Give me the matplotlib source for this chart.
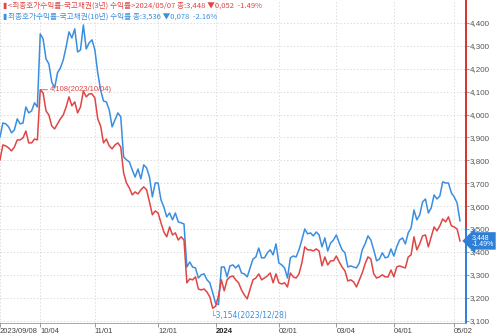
import matplotlib
matplotlib.use('Agg')
import matplotlib.pyplot as plt
import matplotlib.transforms as mtransforms
from matplotlib.ticker import FuncFormatter

plt.rcParams['font.family'] = ['Noto Sans CJK KR', 'DejaVu Sans']

# 최종호가수익률 (x1000), 2023/09/08 ~ 2024/05/07, 영업일 기준
y3 = [3802, 3867, 3863, 3854, 3841, 3858, 3889, 3889, 3898, 3928,
      3876, 3876, 3893, 3889, 4108, 4094, 4016, 3998, 3950, 3937,
      3959, 3981, 3998, 4033, 4077, 4038, 4055, 4007, 4033, 4103,
      4077, 4090, 4090, 4072, 3981, 3950, 3876, 3893, 3863, 3850,
      3867, 3876, 3858, 3745, 3701, 3679, 3649, 3662, 3653, 3671,
      3684, 3671, 3618, 3562, 3579, 3570, 3527, 3487, 3466, 3509,
      3474, 3483, 3452, 3466, 3452, 3265, 3282, 3278, 3291, 3238,
      3234, 3238, 3225, 3203, 3154, 3163, 3208, 3278, 3230, 3278,
      3291, 3295, 3278, 3265, 3234, 3212, 3195, 3238, 3278, 3286,
      3304, 3278, 3286, 3295, 3308, 3265, 3304, 3265, 3260, 3265,
      3247, 3308, 3291, 3286, 3304, 3352, 3422, 3409, 3409, 3404,
      3413, 3404, 3339, 3378, 3343, 3361, 3361, 3382, 3356, 3334,
      3317, 3273, 3278, 3269, 3247, 3278, 3308, 3348, 3378, 3369,
      3304, 3286, 3291, 3300, 3291, 3291, 3321, 3291, 3334, 3339,
      3334, 3330, 3378, 3387, 3466, 3409, 3435, 3470, 3474, 3422,
      3466, 3509, 3492, 3514, 3544, 3531, 3553, 3514, 3509, 3500,
      3448]
y10 = [3902, 3963, 3959, 3946, 3920, 3933, 3981, 3959, 3963, 4033,
       4007, 4016, 4051, 4033, 4352, 4330, 4243, 4221, 4142, 4116,
       4182, 4203, 4238, 4295, 4361, 4334, 4374, 4273, 4282, 4391,
       4286, 4313, 4326, 4282, 4182, 4107, 4059, 4055, 4020, 3946,
       3976, 4007, 3990, 3815, 3802, 3793, 3758, 3727, 3762, 3719,
       3780, 3767, 3727, 3640, 3701, 3701, 3627, 3596, 3553, 3570,
       3540, 3570, 3531, 3527, 3522, 3334, 3356, 3334, 3330, 3286,
       3300, 3304, 3278, 3265, 3221, 3175, 3170, 3334, 3334, 3291,
       3339, 3343, 3330, 3343, 3308, 3304, 3291, 3330, 3369, 3378,
       3417, 3374, 3374, 3396, 3409, 3387, 3435, 3352, 3343, 3330,
       3286, 3374, 3382, 3378, 3409, 3452, 3500, 3479, 3483, 3470,
       3487, 3474, 3422, 3461, 3404, 3439, 3452, 3474, 3439, 3409,
       3396, 3334, 3339, 3334, 3330, 3352, 3409, 3435, 3470, 3452,
       3409, 3361, 3369, 3396, 3374, 3378, 3413, 3382, 3422, 3452,
       3461, 3435, 3483, 3505, 3583, 3540, 3562, 3618, 3631, 3570,
       3592, 3649, 3631, 3644, 3706, 3701, 3701, 3658, 3640, 3614,
       3536]

# 월 구분 위치 (영업일 인덱스)
tick_idx = [0, 14, 33, 55, 75, 97, 117, 137, 158]
tick_lbl = ['2023/09/08', '10/04', '11/01', '12/01', '2024', '02/01', '03/04', '04/01', '05/02']
y_ticks = list(range(3100, 4401, 100))

red = '#e04545'
blue = '#3a8ee0'
x = list(range(len(y3)))

fig = plt.figure(figsize=(5.0, 3.36), dpi=100)
ax = fig.add_axes([0.0, 0.039, 0.932, 0.961])

ax.plot(x, y10, color=blue, lw=1.1)
ax.plot(x, y3, color=red, lw=1.1)

ax.set_xlim(0, 162.1)
ax.set_ylim(3090, 4500)

ax.yaxis.tick_right()
ax.set_yticks(y_ticks)
ax.yaxis.set_major_formatter(FuncFormatter(lambda v, p: f'{int(v):,}'))
ax.tick_params(axis='y', length=2, width=0.6, pad=1, labelsize=5.8,
               labelcolor='#555555', color='#888888')
for t in ax.get_yticklabels():
    t.set_family(['Liberation Sans', 'DejaVu Sans'])

ax.set_xticks(tick_idx)
ax.set_xticklabels(tick_lbl)
ax.tick_params(axis='x', length=3, width=0.6, pad=0.5, labelsize=5.5,
               labelcolor='#444444', color='#888888')
for t in ax.get_xticklabels():
    t.set_horizontalalignment('left')
    t.set_family(['Liberation Sans', 'DejaVu Sans'])
    if t.get_text() == '2024':
        t.set_fontweight('bold')
        t.set_color('#222222')

ax.grid(True, color='#d4d4d4', linestyle=(0, (1.5, 2.5)), linewidth=0.6)
ax.set_axisbelow(True)

for side in ['top', 'left', 'right']:
    ax.spines[side].set_visible(False)
ax.spines['bottom'].set_color('#9a9a9a')
ax.spines['bottom'].set_linewidth(0.6)

# 오른쪽 축선: 위쪽 빨강, 아래쪽 파랑
trans = mtransforms.blended_transform_factory(ax.transAxes, ax.transData)
ax.plot([1, 1], [3500, 4500], transform=trans, color='#d83030', lw=1.4, clip_on=False)
ax.plot([1, 1], [3090, 3500], transform=trans, color='#2f7fd6', lw=1.4, clip_on=False)

# 현재가 박스
ax.text(1.012, y3[-1], f'{y3[-1]:,}\n-1.49%', transform=trans, color='white',
        fontsize=5, ha='left', va='center', linespacing=1.0,
        family=['Liberation Sans', 'DejaVu Sans'],
        bbox=dict(boxstyle='larrow,pad=0.25', fc='#2f7fd6', ec='none'), clip_on=False)

# 최고/최저 표시
hi = y3.index(max(y3))
lo = y3.index(min(y3))
ax.annotate(f'{y3[hi]:,}(2023/10/04)', xy=(hi, y3[hi]), xytext=(hi + 3.5, y3[hi]),
            color=red, fontsize=5.5, va='center', family=['Liberation Sans', 'DejaVu Sans'],
            arrowprops=dict(arrowstyle='-', color=red, lw=0.6, shrinkA=0, shrinkB=0))
ax.text(lo - 0.6, y3[lo] - 12, f'└{y3[lo]:,}(2023/12/28)', color=blue, fontsize=5.5,
        va='top', ha='left', family=['DejaVu Sans'])

# 범례 텍스트
fig.text(0.004, 0.982, '▮', color=red, fontsize=5.5, va='center')
fig.text(0.016, 0.982, f'<최종호가수익률-국고채권(3년) 수익률>2024/05/07 종:{y3[-1]:,} ▼0,052  -1.49%',
         color=red, fontsize=5.5, va='center')
fig.text(0.004, 0.950, '▮', color=blue, fontsize=5.5, va='center')
fig.text(0.016, 0.950, f'최종호가수익률-국고채권(10년) 수익률 종:{y10[-1]:,} ▼0,078  -2.16%',
         color=blue, fontsize=5.5, va='center')

fig.savefig('out.png', dpi=100)
